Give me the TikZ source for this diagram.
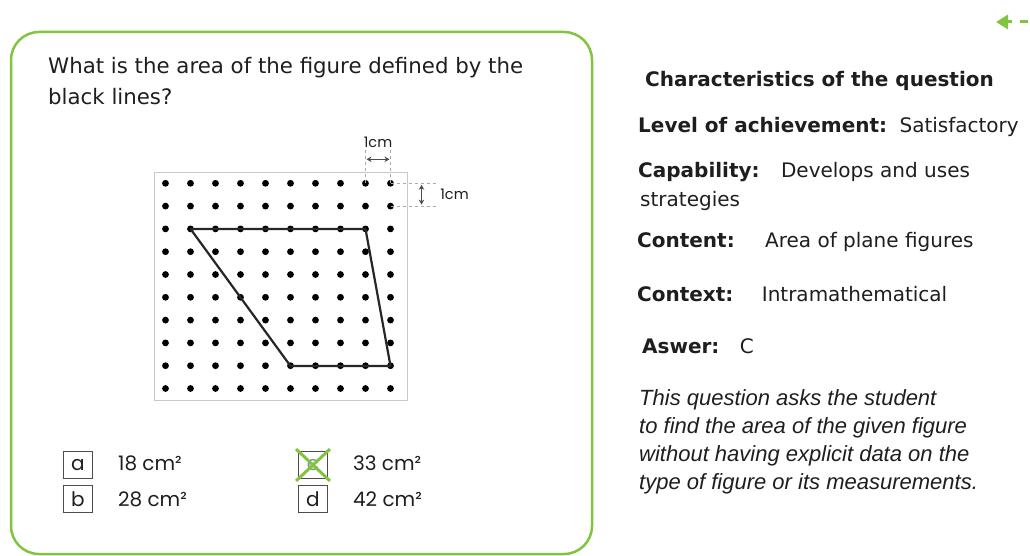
\documentclass[tikz,border=0pt]{standalone}
\usepackage{fontspec}
\setmainfont{DejaVu Sans}
\newfontfamily\optfont{Poppins}
\newfontfamily\notefont{Liberation Sans}
\usepackage{tikz}
\usetikzlibrary{
  positioning,%
  calc,%
  arrows.meta
}
\definecolor{cardgreen}{RGB}{128,196,64}
\definecolor{inkgray}{RGB}{30,30,30}
\definecolor{framegray}{RGB}{200,200,200}
\definecolor{guidegray}{RGB}{170,170,170}
\tikzset{>=latex}
\tikzset{
  card/.style={draw=cardgreen, line width=2.5pt, rounded corners=28pt},
  questiontext/.style={anchor=base west, inner sep=0pt, text=inkgray,
    font=\fontsize{21.3}{26}\selectfont},
  headtext/.style={anchor=base west, inner sep=0pt, text=inkgray,
    font=\bfseries\fontsize{20}{24}\selectfont},
  valuetext/.style={anchor=base west, inner sep=0pt, text=inkgray,
    font=\fontsize{20}{24}\selectfont},
  notetext/.style={anchor=base west, inner sep=0pt, text=inkgray,
    font=\notefont\itshape\fontsize{22}{26}\selectfont},
  optbox/.style={draw=black!70, line width=0.8pt, minimum width=29pt,
    minimum height=27pt, inner sep=0pt, text=inkgray,
    font=\optfont\fontsize{20}{24}\selectfont},
  opttext/.style={anchor=base west, inner sep=0pt, text=inkgray,
    font=\optfont\fontsize{20}{24}\selectfont},
  gridframe/.style={draw=framegray, line width=1pt},
  shape line/.style={draw=black!85, line width=2.2pt, line join=round},
  dimguide/.style={draw=guidegray, dashed, line width=0.7pt},
  dimarrow/.style={draw=black!70, line width=1pt,
    {Stealth[length=5pt, width=5.5pt]}-{Stealth[length=5pt, width=5.5pt]}},
  dimlabel/.style={inner sep=0pt, text=inkgray, font=\optfont\fontsize{14.5}{16}\selectfont},
  crossmark/.style={draw=cardgreen, line width=3pt}
}

\begin{document}
\begin{tikzpicture}[x=1pt, y=-1pt]
  \useasboundingbox (0,0) rectangle (1030,556);
  % card round the question
  \draw[card] (11,32) rectangle (592,554); %
  \coordinate (backtip) at (996,22); \coordinate (backtail) at (1012,22); %
  \coordinate (dashL) at (1020,22); \coordinate (dashR) at (1028,22); %
  \draw[cardgreen, line width=3pt, -{Triangle[length=12pt, width=14pt]}] (backtail) -- (backtip); %
  \draw[cardgreen, line width=3pt] (dashL) -- (dashR); %
  % question
  \node[questiontext] (q1) at (48,74) {What is the area of the figure defined by the};
  \node[questiontext] (q2) at (48,105) {black lines?};
  % dot paper
  \draw[gridframe] (154,173) rectangle (407,400); %
  \foreach \i in {0,...,9}
    \foreach \j in {0,...,9}
      \fill[black] (165.5+25*\i, 183.3+22.8*\j) circle[radius=3.4pt];
  \coordinate (A) at (190.5,228.9); % row 2, col 1
  \coordinate (B) at (365.5,228.9); % row 2, col 8
  \coordinate (C) at (390.5,366.0); % row 8, col 9
  \coordinate (D) at (290.5,366.0); % row 8, col 5
  \draw[shape line] (A) -- (B) -- (C) -- (D) -- cycle; %
  % 1cm marks
  \coordinate (h1) at (365.5,183.3); \coordinate (h2) at (390.5,183.3); %
  \draw[dimguide] (h1) -- ++(0,-35); \draw[dimguide] (h2) -- ++(0,-35); %
  \draw[dimarrow] ($(h1)+(1,-24)$) -- ($(h2)+(-1,-24)$); %
  \node[dimlabel] (hcm) at ($(h1)!0.5!(h2)+(0,-41)$) {1cm};
  \coordinate (v1) at (390.5,183.3); \coordinate (v2) at (390.5,206.1); %
  \draw[dimguide] (v1) -- ++(48,0); \draw[dimguide] (v2) -- ++(48,0); %
  \draw[dimarrow] ($(v1)+(31,1.5)$) -- ($(v2)+(31,-1.5)$); %
  \node[dimlabel] (vcm) at ($(v1)!0.5!(v2)+(64,0)$) {1cm};
  % options
  \node[optbox] (oa) at (78,465) {a};
  \node[optbox] (ob) at (78,499) {b};
  \node[optbox, text=black!45] (oc) at (313,465) {c};
  \node[optbox] (od) at (313,499) {d};
  \node[opttext, right=25pt of oa.base east, anchor=base west] (va) {18 cm²};
  \node[opttext, right=25pt of ob.base east, anchor=base west] (vb) {28 cm²};
  \node[opttext, right=25pt of oc.base east, anchor=base west] (vc) {33 cm²};
  \node[opttext, right=25pt of od.base east, anchor=base west] (vd) {42 cm²};
  \draw[crossmark] ($(oc.north west)+(-2,-2)$) -- ($(oc.south east)+(2,2)$); %
  \draw[crossmark] ($(oc.north east)+(2,-2)$) -- ($(oc.south west)+(-2,2)$); %
  % characteristics
  \node[headtext] (chars) at (645,87) {Characteristics of the question};
  \node[headtext] (level) at (638,133) {Level of achievement:};
  \node[valuetext, right=12pt of level.base east, anchor=base west] (levelv) {Satisfactory};
  \node[headtext] (capab) at (638,178) {Capability:};
  \node[valuetext, right=21pt of capab.base east, anchor=base west] (capabv) {Develops and uses};
  \node[valuetext] (capabw) at (640,207) {strategies};
  \node[headtext] (content) at (637,247) {Content:};
  \node[valuetext, right=30pt of content.base east, anchor=base west] (contentv) {Area of plane figures};
  \node[headtext] (context) at (637,301) {Context:};
  \node[valuetext, right=28pt of context.base east, anchor=base west] (contextv) {Intramathematical};
  \node[headtext] (answer) at (642,353) {Aswer:};
  \node[valuetext, right=20pt of answer.base east, anchor=base west] (answerv) {C};
  \node[notetext] (n1) at (639,405) {This question asks the student};
  \node[notetext] (n2) at (639,433) {to find the area of the given figure};
  \node[notetext] (n3) at (639,461) {without having explicit data on the};
  \node[notetext] (n4) at (639,489) {type of figure or its measurements.};
\end{tikzpicture}
\end{document}
